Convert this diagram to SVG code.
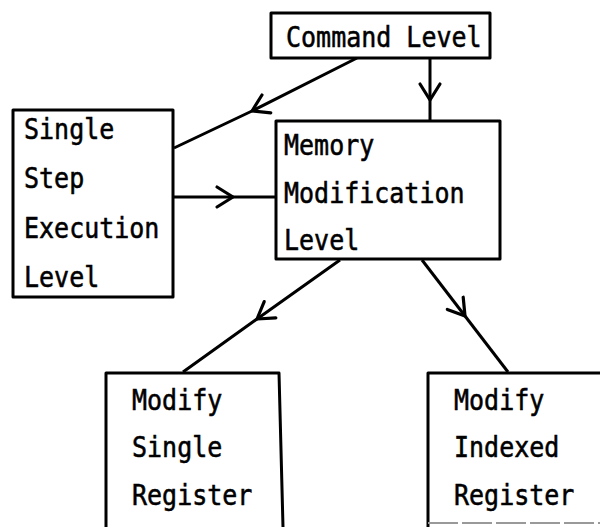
<svg xmlns="http://www.w3.org/2000/svg" width="600" height="527" viewBox="0 0 600 527">
  <style>
    .box { fill: #fff; stroke: #000; stroke-width: 3; stroke-linejoin: round; }
    .open { fill: none; stroke: #000; stroke-width: 3; stroke-linejoin: round; }
    .lbl { font-family: "DejaVu Sans Mono", "Liberation Mono", monospace; font-size: 25px; fill: #000; stroke: #000; stroke-width: 0.5; }
    .edge { fill: none; stroke: #000; stroke-width: 3; marker-mid: url(#chev); }
  </style>
  <defs>
    <marker id="chev" markerUnits="userSpaceOnUse" viewBox="-20 -13 22 26" refX="0" refY="0" markerWidth="22" markerHeight="26" orient="auto" overflow="visible">
      <path d="M-16,-10 L0,0 L-16,10" fill="none" stroke="#000" stroke-width="3.2" stroke-linejoin="round" stroke-linecap="round"/>
    </marker>
  </defs>
  <rect width="600" height="527" fill="#fff"/>

  <g id="connectors">
    <path class="edge" d="M357,58 L252,111 L174,148"/>
    <path class="edge" d="M430,58 L430,100 L430,121"/>
    <path class="edge" d="M173,197 L233,197 L276,197"/>
    <path class="edge" d="M340,260 L257,319 L183,372"/>
    <path class="edge" d="M422,260 L465,316 L508,372"/>
  </g>

  <g id="command-level">
    <rect class="box" x="271" y="13" width="219" height="45"/>
    <text class="lbl" transform="translate(286,47) scale(1,1.12)">Command Level</text>
  </g>

  <g id="single-step">
    <rect class="box" x="13" y="110" width="160" height="187"/>
    <text class="lbl" transform="translate(24,139) scale(1,1.12)">Single</text>
    <text class="lbl" transform="translate(24,188) scale(1,1.12)">Step</text>
    <text class="lbl" transform="translate(24,238) scale(1,1.12)">Execution</text>
    <text class="lbl" transform="translate(24,287) scale(1,1.12)">Level</text>
  </g>

  <g id="memory-modification">
    <rect class="box" x="276" y="121" width="224" height="138"/>
    <text class="lbl" transform="translate(284,155) scale(1,1.12)">Memory</text>
    <text class="lbl" transform="translate(284,203) scale(1,1.12)">Modification</text>
    <text class="lbl" transform="translate(284,250) scale(1,1.12)">Level</text>
  </g>

  <g id="modify-single">
    <path class="open" d="M106,527 L106,373 L279,373 L283,527"/>
    <text class="lbl" transform="translate(132,410) scale(1,1.12)">Modify</text>
    <text class="lbl" transform="translate(132,457) scale(1,1.12)">Single</text>
    <text class="lbl" transform="translate(132,505) scale(1,1.12)">Register</text>
  </g>

  <g id="modify-indexed">
    <path class="open" d="M428,527 L428,373 L600,373"/>
    <line x1="428" y1="523" x2="600" y2="523" stroke="#999" stroke-width="2" stroke-dasharray="30 4"/>
    <text class="lbl" transform="translate(454,410) scale(1,1.12)">Modify</text>
    <text class="lbl" transform="translate(454,457) scale(1,1.12)">Indexed</text>
    <text class="lbl" transform="translate(454,505) scale(1,1.12)">Register</text>
  </g>
</svg>
